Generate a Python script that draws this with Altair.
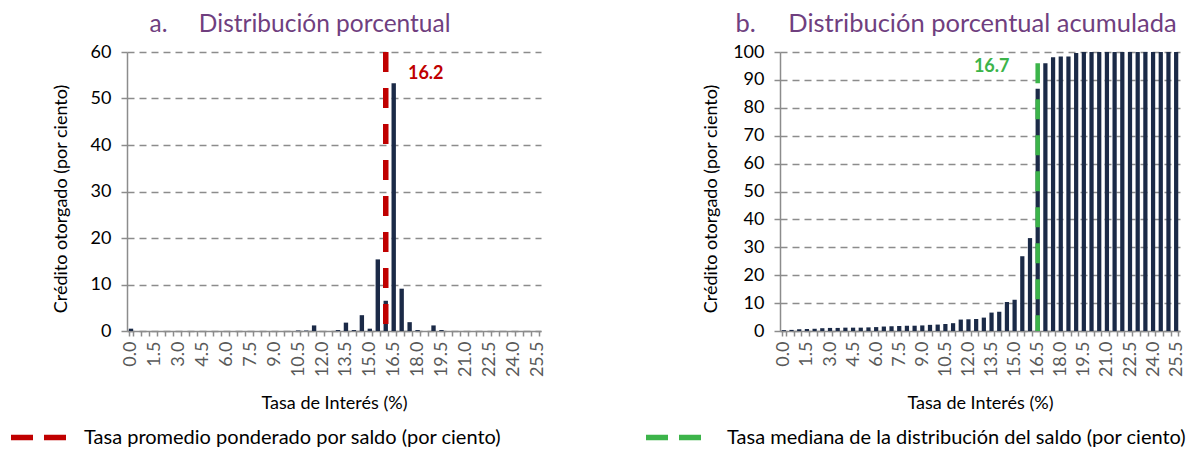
import altair as alt
import pandas as pd

# ---------------- data ----------------
tasas = ["0.0", "0.5", "1.0", "1.5", "2.0", "2.5", "3.0", "3.5", "4.0", "4.5",
         "5.0", "5.5", "6.0", "6.5", "7.0", "7.5", "8.0", "8.5", "9.0", "9.5",
         "10.0", "10.5", "11.0", "11.5", "12.0", "12.5", "13.0", "13.5", "14.0", "14.5",
         "15.0", "15.5", "16.0", "16.5", "17.0", "17.5", "18.0", "18.5", "19.0", "19.5",
         "20.0", "20.5", "21.0", "21.5", "22.0", "22.5", "23.0", "23.5", "24.0", "24.5",
         "25.0", "25.5"]

dist_pct = [0.5, 0.0, 0.0, 0.0, 0.0, 0.0, 0.0, 0.0, 0.0, 0.0,
            0.0, 0.0, 0.0, 0.0, 0.0, 0.0, 0.0, 0.0, 0.0, 0.0,
            0.0, 0.1, 0.1, 1.2, 0.0, 0.0, 0.2, 1.8, 0.2, 3.4,
            0.5, 15.4, 6.5, 53.3, 9.1, 1.9, 0.2, 0.0, 1.2, 0.2,
            0.0, 0.0, 0.0, 0.0, 0.0, 0.0, 0.0, 0.0, 0.0, 0.0,
            0.0, 0.0]

dist_acum = [0.3, 0.4, 0.6, 0.7, 0.8, 1.0, 1.1, 1.1, 1.2, 1.2,
             1.2, 1.3, 1.4, 1.6, 1.7, 1.8, 1.9, 1.9, 2.0, 2.2,
             2.3, 2.5, 2.8, 4.1, 4.2, 4.3, 4.8, 6.6, 6.9, 10.4,
             11.2, 26.8, 33.3, 86.8, 96.0, 98.1, 98.4, 98.4, 99.6, 100.0,
             100.0, 100.0, 100.0, 100.0, 100.0, 100.0, 100.0, 100.0, 100.0, 100.0,
             100.0, 100.0]

tasa_promedio = 16.2
tasa_mediana = 16.7
tope_promedio = 60
tope_mediana = 96
y_etiqueta_promedio = 55.2
y_etiqueta_mediana = 94.5

titulo_a = "a.\u00a0\u00a0\u00a0\u00a0 Distribución porcentual"
titulo_b = "b.\u00a0\u00a0\u00a0\u00a0 Distribución porcentual acumulada"
leyenda_a = "Tasa promedio ponderado por saldo (por ciento)"
leyenda_b = "Tasa mediana de la distribución del saldo (por ciento)"
titulo_x = "Tasa de Interés (%)"
titulo_y = "Crédito otorgado (por ciento)"

FONT = "Lato"
NAVY = "#1B2A47"
RED = "#C00000"
GREEN = "#3CB44A"
PURPLE = "#703F7F"
GRAY = "#8C8C8C"


def categoria(v):
    return f"{round(v * 2) / 2:.1f}"


def panel(valores, ymax, titulo, tasa, tope, color, dash, stroke_w, leyenda, y_etq,
          dx_etq, width, legend_x, sym_size, sym_dash, label_off, title_dx, title_size,
          ytitle_pad):
    df = pd.DataFrame({"tasa": tasas, "valor": valores})
    df_linea = pd.DataFrame({"tasa": [categoria(tasa)], "valor": [tope],
                             "base": [0], "serie": [leyenda]})
    df_etq = pd.DataFrame({"tasa": [categoria(tasa)], "valor": [y_etq],
                           "etq": [f"{tasa:.1f}"]})

    x = alt.X("tasa:O",
              scale=alt.Scale(domain=tasas, paddingInner=0.45, paddingOuter=0.225),
              axis=alt.Axis(title=titulo_x, labelAngle=-90,
                            labelExpr="toNumber(datum.value) % 1.5 == 0 ? datum.label : ''",
                            labelOverlap=False, tickBand="extent", tickSize=5,
                            labelPadding=5, labelFontSize=18, labelColor="#595959",
                            titleFontSize=18, titlePadding=18, titleColor="#000000",
                            titleFontWeight="normal", titleFont=FONT, labelFont=FONT))
    y = alt.Y("valor:Q",
              scale=alt.Scale(domain=[0, ymax], nice=False),
              axis=alt.Axis(title=titulo_y, values=list(range(0, ymax + 1, 10)),
                            grid=True, gridDash=[7, 5], gridColor=GRAY, gridWidth=1.5,
                            tickSize=6, labelPadding=10, labelFontSize=18,
                            labelColor="#000000", titleFontSize=18, titleColor="#000000",
                            titleFontWeight="normal", titlePadding=ytitle_pad,
                            titleY=146.5, titleFont=FONT, labelFont=FONT))

    barras = alt.Chart(df).mark_bar(color=NAVY).encode(x=x, y=y)

    linea = alt.Chart(df_linea).mark_rule(strokeWidth=stroke_w, strokeDash=dash).encode(
        x=x, y=y, y2="base:Q",
        color=alt.Color("serie:N", scale=alt.Scale(range=[color]),
                        legend=alt.Legend(title=None, orient="none",
                                          legendX=legend_x, legendY=355,
                                          symbolType="stroke", symbolSize=sym_size,
                                          symbolStrokeWidth=5.5, symbolDash=sym_dash,
                                          labelFontSize=20, labelFont=FONT,
                                          labelColor="#000000", labelLimit=800,
                                          labelOffset=label_off)))

    etiqueta = alt.Chart(df_etq).mark_text(color=color, fontWeight="bold", fontSize=18,
                                           font=FONT, dx=dx_etq, baseline="middle").encode(
        x=x, y=y, text="etq:N")

    return alt.layer(barras, linea, etiqueta).properties(
        width=width, height=279,
        title=alt.TitleParams(titulo, font=FONT, fontSize=title_size, color=PURPLE,
                              fontWeight="normal", anchor="middle", dx=title_dx,
                              offset=6))


izq = panel(dist_pct, 60, titulo_a, tasa_promedio, tope_promedio, RED, [20, 16], 5.5,
            leyenda_a, y_etiqueta_promedio, 40, 414, -119, 3025, [22, 11], 15, -34, 24.5, 20)
der = panel(dist_acum, 100, titulo_b, tasa_mediana, tope_mediana, GREEN, [20, 16], 4.5,
            leyenda_b, y_etiqueta_mediana, -46, 400, -137, 3025, [22, 11], 23, -24, 25.5, 12)

chart = alt.hconcat(izq, der, spacing=96).resolve_scale(color="independent").properties(
    padding={"left": 0, "top": 3, "right": 0, "bottom": 0}
).configure_view(stroke=None).configure_axis(
    domainColor=GRAY, domainWidth=1.5, tickColor=GRAY, tickWidth=1.5
)

chart.save("out.html", embed_options={"renderer": "svg", "actions": False})
